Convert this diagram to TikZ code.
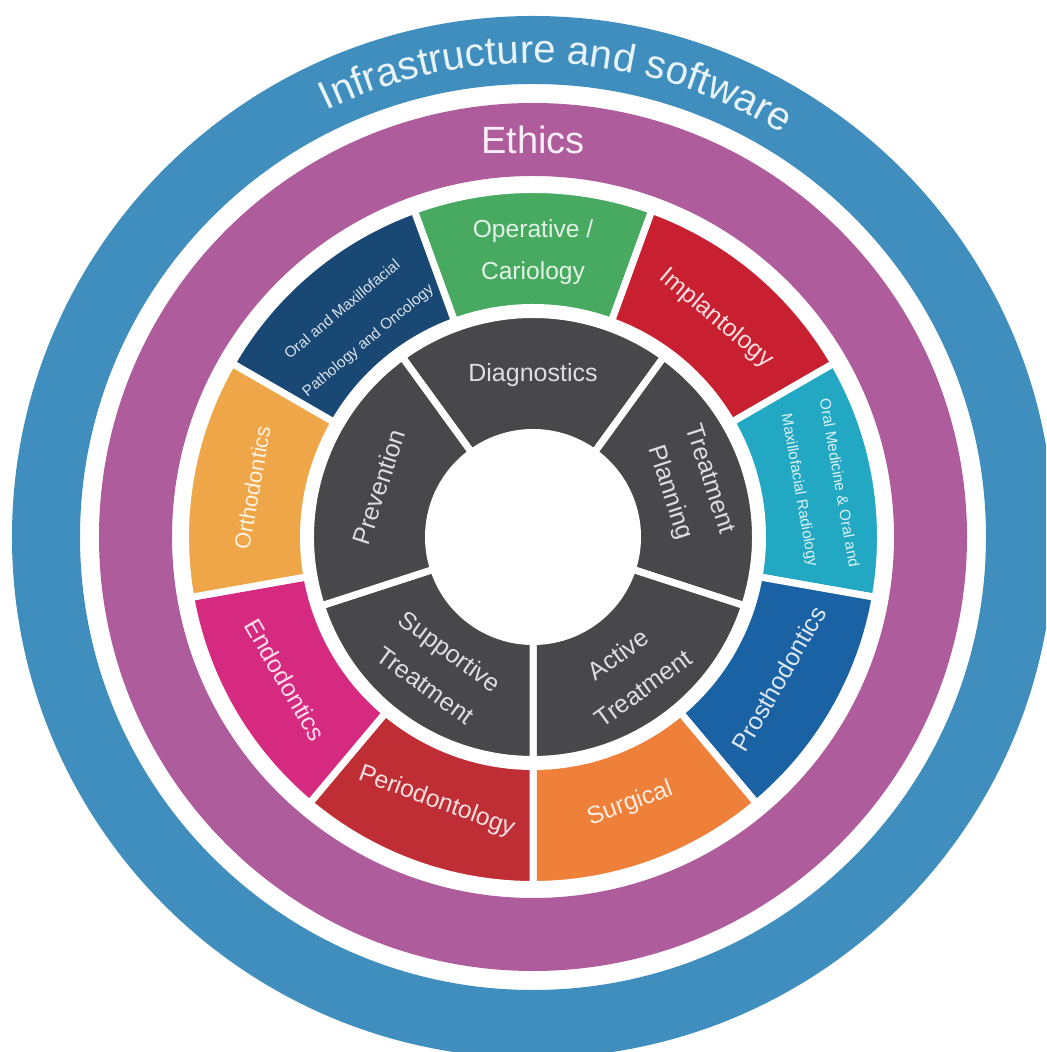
\documentclass[tikz,border=0pt]{standalone}
\usepackage{fontspec}
\setmainfont{Liberation Sans}
\usetikzlibrary{decorations.text}
\definecolor{infrablue}{RGB}{63, 142, 190}
\definecolor{ethicspurple}{RGB}{175, 92, 157}
\definecolor{opgreen}{RGB}{72, 170, 96}
\definecolor{implred}{RGB}{200, 32, 48}
\definecolor{oralmedteal}{RGB}{35, 168, 196}
\definecolor{prostblue}{RGB}{27, 98, 165}
\definecolor{surgorange}{RGB}{238, 128, 58}
\definecolor{periored}{RGB}{190, 46, 52}
\definecolor{endomagenta}{RGB}{214, 41, 128}
\definecolor{orthoorange}{RGB}{238, 166, 72}
\definecolor{pathnavy}{RGB}{24, 72, 115}
\definecolor{coregray}{RGB}{72, 72, 74}
\definecolor{infratext}{RGB}{232, 244, 250}
\tikzset{
  sector/.style={fill=#1, draw=white, line width=3.5pt},
  ringlabel/.style={text=white!90!#1, font=\fontsize{19}{19}\selectfont},
  seglabel/.style={text=white!85!#1, font=\fontsize{12.3}{21}\selectfont,
              align=center, inner sep=0pt},
  smalllabel/.style={text=white!85!#1, font=\fontsize{7.6}{20}\selectfont,
              align=center, inner sep=0pt},
  corelabel/.style={text=white!82!coregray, font=\fontsize{12.5}{21}\selectfont,
              align=center, inner sep=0pt},
}
% #1 colour, #2/#3 start/end angle, #4/#5 inner/outer radius
\newcommand{\ringsector}[5]{%
  \filldraw[sector=#1] (#2:#4) arc[start angle=#2, end angle=#3, radius=#4]
    -- (#3:#5) arc[start angle=#3, end angle=#2, radius=#5] -- cycle;}

\begin{document}
\begin{tikzpicture}[x=0.5pt, y=0.5pt]
  \clip (-533,-515) rectangle (513,537);
  \fill[white] (-533,-515) rectangle (513,537);

  % outer rings
  \fill[infrablue, even odd rule] (0,0) circle[radius=521] circle[radius=453];
  \fill[ethicspurple, even odd rule] (0,0) circle[radius=434] circle[radius=361];
  \path[decorate, decoration={text along path, text align=center,
        text={|\fontsize{20}{20}\selectfont\color{infratext}|Infrastructure and software}}]
        (150:474) arc[start angle=150, end angle=24, radius=474];
  \node[ringlabel=ethicspurple] (ethics) at (90:397) {Ethics};

  % specialties
  \ringsector{opgreen}{70}{110}{229.5}{347.5}
  \ringsector{implred}{30}{70}{229.5}{347.5}
  \ringsector{oralmedteal}{-10}{30}{229.5}{347.5}
  \ringsector{prostblue}{-50}{-10}{229.5}{347.5}
  \ringsector{surgorange}{-90}{-50}{229.5}{347.5}
  \ringsector{periored}{-130}{-90}{229.5}{347.5}
  \ringsector{endomagenta}{-170}{-130}{229.5}{347.5}
  \ringsector{orthoorange}{150}{190}{229.5}{347.5}
  \ringsector{pathnavy}{110}{150}{229.5}{347.5}

  % care phases
  \ringsector{coregray}{54}{126}{104.5}{222.5}
  \ringsector{coregray}{-18}{54}{104.5}{222.5}
  \ringsector{coregray}{-90}{-18}{104.5}{222.5}
  \ringsector{coregray}{-162}{-90}{104.5}{222.5}
  \ringsector{coregray}{126}{198}{104.5}{222.5}

  \node[seglabel=opgreen] (operative) at (90:285) {Operative /\\Cariology};
  \node[seglabel=implred, rotate=-40] (implant) at (50:285) {Implantology};
  \node[smalllabel=oralmedteal, rotate=-80] (oralmed) at (10:290)
        {Oral Medicine \& Oral and\\Maxillofacial Radiology};
  \node[seglabel=prostblue, rotate=60] (prosth) at (330:284) {Prosthodontics};
  \node[seglabel=surgorange, rotate=20] (surgical) at (290:284) {Surgical};
  \node[seglabel=periored, rotate=-20] (perio) at (250:282) {Periodontology};
  \node[seglabel=endomagenta, rotate=-60] (endo) at (210:286) {Endodontics};
  \node[seglabel=orthoorange, rotate=80, font=\fontsize{11}{21}\selectfont] (ortho)
        at (170:285) {Orthodontics};
  \node[smalllabel=pathnavy, rotate=40] (patho) at (130:276)
        {Oral and Maxillofacial\\Pathology and Oncology};

  \node[corelabel] (diag) at (90:162) {Diagnostics};
  \node[corelabel, rotate=-72] (planning) at (18:164) {Treatment\\Planning};
  \node[corelabel, rotate=36] (active) at (306:166) {Active\\Treatment};
  \node[corelabel, rotate=-36] (supportive) at (234:162) {Supportive\\Treatment};
  \node[corelabel, rotate=72] (prevention) at (162:162) {Prevention};
\end{tikzpicture}
\end{document}
